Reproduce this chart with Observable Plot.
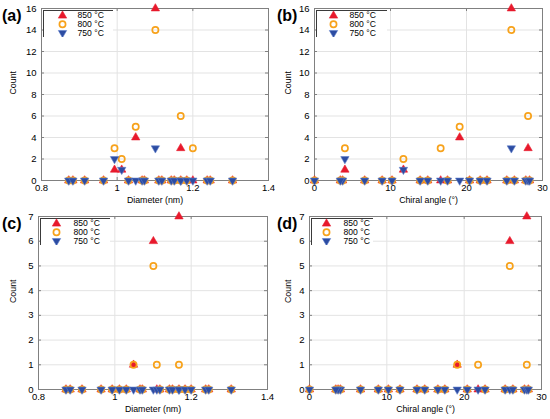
<!DOCTYPE html>
<html>
<head>
<meta charset="utf-8">
<script src="https://cdn.jsdelivr.net/npm/d3@7"></script>
<script src="https://cdn.jsdelivr.net/npm/@observablehq/plot@0.6"></script>
<style>
  html, body { margin: 0; padding: 0; background: #fff; }
  #wrap { position: relative; width: 550px; height: 419px; overflow: hidden; }
  .panel { position: absolute; }
  .legend { position: absolute; line-height: 0; }
</style>
</head>
<body>
<div id="wrap"></div>
<script>
// Chiralities (n,m) shown in every panel
const chirality   = ["(11,0)","(10,2)","(9,4)","(8,6)","(12,1)","(11,3)","(8,7)","(10,5)","(11,4)","(13,1)","(9,7)","(10,6)","(13,2)","(12,4)","(14,1)","(9,8)","(13,3)","(11,6)","(12,5)","(10,8)","(11,7)","(10,9)"];
const diameter    = [0.872, 0.883, 0.914, 0.964, 0.993, 1.012, 1.030, 1.049, 1.066, 1.072, 1.101, 1.110, 1.118, 1.143, 1.151, 1.168, 1.168, 1.184, 1.200, 1.238, 1.246, 1.305];
const chiralAngle = [0.0, 8.9, 17.5, 25.3, 4.0, 11.7, 27.8, 19.1, 14.9, 3.7, 25.9, 21.8, 6.6, 13.9, 3.4, 28.1, 10.2, 20.4, 16.6, 26.3, 22.7, 28.3];

// Counts, panels (a)/(b)
const countAB850 = [0,0,0,0,1,1,0,4,0,0,16,0,0,0,0,3,0,0,0,0,0,0];
const countAB800 = [0,0,0,0,3,2,0,5,0,0,14,0,0,0,0,6,0,0,3,0,0,0];
const countAB750 = [0,0,0,0,2,1,0,0,0,0,3,0,0,0,0,0,0,0,0,0,0,0];
// Counts, panels (c)/(d)
const countCD850 = [0,0,0,0,0,0,0,1,0,0,6,0,0,0,0,7,0,0,0,0,0,0];
const countCD800 = [0,0,0,0,0,0,0,1,0,0,5,1,0,0,0,1,0,0,0,0,0,0];
const countCD750 = [0,0,0,0,0,0,0,0,0,0,0,0,0,0,0,0,0,0,0,0,0,0];

const seriesNames = ["850 °C", "800 °C", "750 °C"];
const diamTicks = [0.8, 1, 1.2, 1.4];
const angleTicks = [0, 10, 20, 30];
const countTicksTop = [0, 2, 4, 6, 8, 10, 12, 14, 16];
const countTicksBottom = [0, 1, 2, 3, 4, 5, 6, 7];

const RED = "#e8192c", ORANGE = "#f7a21b", BLUE = "#2c4ca2";
const FONT = "'Liberation Sans', Arial, Helvetica, sans-serif";

function panel(o) {
  const {W, H, mL, mR, mT, mB} = o;
  const innerW = W - mL - mR, innerH = H - mT - mB;
  const idx = d3.range(o.xVals.length);
  const svg = Plot.plot({
    width: W, height: H,
    marginLeft: mL, marginRight: mR, marginTop: mT, marginBottom: mB,
    style: {fontFamily: FONT, fontSize: "9.5px", background: "white", color: "#000", overflow: "visible"},
    x: {domain: o.xDomain},
    y: {domain: o.yDomain},
    marks: [
      Plot.gridX(o.xTicks, {stroke: "#e3e3e3", strokeOpacity: 1}),
      Plot.gridY(o.yTicks, {stroke: "#e3e3e3", strokeOpacity: 1}),
      Plot.tickX(o.xTicks, {insetTop: innerH - 3, stroke: "#808080"}),
      Plot.tickX(o.xTicks, {insetBottom: innerH - 3, stroke: "#808080"}),
      Plot.tickY(o.yTicks, {insetRight: innerW - 3, stroke: "#808080"}),
      Plot.tickY(o.yTicks, {insetLeft: innerW - 3, stroke: "#808080"}),
      Plot.frame({stroke: "#808080"}),
      Plot.axisX(o.xTicks, {tickSize: 0, tickPadding: 4, tickFormat: d => String(d), label: null}),
      Plot.axisY(o.yTicks, {tickSize: 0, tickPadding: 5, tickFormat: d => String(d), label: null}),
      Plot.dot(idx, {x: i => o.xVals[i], y: i => o.c850[i], symbol: "triangle", r: 3.1, fill: RED, stroke: RED, strokeWidth: 0.6}),
      Plot.dot(idx, {x: i => o.xVals[i], y: i => o.c800[i], symbol: "circle", r: 3.1, fill: "none", stroke: ORANGE, strokeWidth: 1.7}),
      Plot.dot(idx, {x: i => o.xVals[i], y: i => o.c750[i], symbol: "triangle", rotate: 180, r: 3.1, fill: BLUE, stroke: "#5d7cc9", strokeWidth: 0.6}),
      Plot.text([o.xLabel], {frameAnchor: "bottom", dy: 22, fontSize: 8.8}),
      Plot.text(["Count"], {frameAnchor: "left", dx: 13 - mL, rotate: -90, fontSize: 8.8})
    ]
  });
  const s = d3.select(svg);
  s.append("text").attr("x", 2).attr("y", o.tagY).attr("text-anchor", "start").attr("font-family", FONT).attr("font-weight", "bold")
    .attr("font-size", 16).attr("fill", "#000").text(o.tag);
  return svg;
}

// Legend: a small Plot chart of its own, framed, placed over the frame's top-left corner
function legend(o) {
  const w = o.legendW, h = 27;
  const rows = [0, 1, 2];
  const rowY = i => 5.2 + i * 8.6;
  return Plot.plot({
    width: w, height: h, margin: 0,
    style: {fontFamily: FONT, fontSize: "8.6px", background: "white", color: "#000"},
    x: {domain: [0, w], range: [0, w], axis: null},
    y: {domain: [0, h], range: [0, h], axis: null},
    marks: [
      Plot.frame({stroke: "#3a3a3a", fill: "white"}),
      Plot.dot([0], {x: () => o.legendMk, y: () => rowY(0), symbol: "triangle", r: 3.1, fill: RED, stroke: RED, strokeWidth: 0.6}),
      Plot.dot([1], {x: () => o.legendMk, y: () => rowY(1), symbol: "circle", r: 3.1, fill: "none", stroke: ORANGE, strokeWidth: 1.7}),
      Plot.dot([2], {x: () => o.legendMk, y: () => rowY(2), symbol: "triangle", rotate: 180, r: 3.1, fill: BLUE, stroke: "#5d7cc9", strokeWidth: 0.6}),
      Plot.text(rows, {x: () => o.legendTx, y: i => rowY(i), text: i => seriesNames[i], textAnchor: "start"})
    ]
  });
}

const panels = [
  {left: 0, top: 0, W: 275, H: 209, mL: 41, mR: 7, mT: 8, mB: 29, xVals: diameter, xDomain: [0.8, 1.4], xTicks: diamTicks, xLabel: "Diameter (nm)",
   yDomain: [0, 16], yTicks: countTicksTop, c850: countAB850, c800: countAB800, c750: countAB750, tag: "(a)", tagY: 21, legendW: 70, legendMk: 19, legendTx: 34},
  {left: 275, top: 0, W: 275, H: 209, mL: 39, mR: 8, mT: 8, mB: 29, xVals: chiralAngle, xDomain: [0, 30], xTicks: angleTicks, xLabel: "Chiral angle (°)",
   yDomain: [0, 16], yTicks: countTicksTop, c850: countAB850, c800: countAB800, c750: countAB750, tag: "(b)", tagY: 21, legendW: 71, legendMk: 17, legendTx: 33},
  {left: 0, top: 209, W: 275, H: 210, mL: 38, mR: 8, mT: 7, mB: 30, xVals: diameter, xDomain: [0.8, 1.4], xTicks: diamTicks, xLabel: "Diameter (nm)",
   yDomain: [0, 7], yTicks: countTicksBottom, c850: countCD850, c800: countCD800, c750: countCD750, tag: "(c)", tagY: 20, legendW: 70, legendMk: 16, legendTx: 33},
  {left: 275, top: 209, W: 275, H: 210, mL: 34, mR: 9, mT: 7, mB: 30, xVals: chiralAngle, xDomain: [0, 30], xTicks: angleTicks, xLabel: "Chiral angle (°)",
   yDomain: [0, 7], yTicks: countTicksBottom, c850: countCD850, c800: countCD800, c750: countCD750, tag: "(d)", tagY: 20, legendW: 62, legendMk: 15, legendTx: 32}
];

const wrap = document.getElementById("wrap");
panels.forEach(p => {
  const div = document.createElement("div");
  div.className = "panel";
  div.style.left = p.left + "px";
  div.style.top = p.top + "px";
  div.appendChild(panel(p));
  wrap.appendChild(div);
  const lg = document.createElement("div");
  lg.className = "legend";
  lg.style.left = (p.left + p.mL + 2) + "px";
  lg.style.top = (p.top + p.mT + 2) + "px";
  lg.appendChild(legend(p));
  wrap.appendChild(lg);
});
</script>
</body>
</html>
